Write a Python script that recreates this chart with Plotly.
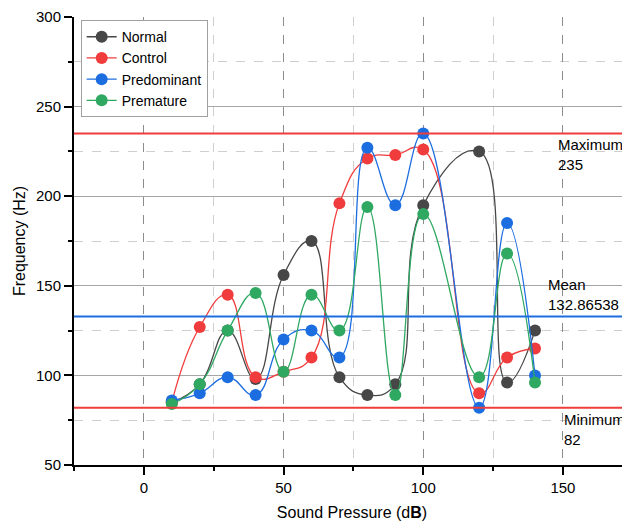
import plotly.graph_objects as go

# ---- data ----
sound_pressure = [10, 20, 30, 40, 50, 60, 70, 80, 90, 100, 120, 130, 140]
normal = [85, 95, 125, 98, 156, 175, 99, 89, 95, 195, 225, 96, 125]
control = [85, 127, 145, 99, 102, 110, 196, 221, 223, 226, 90, 110, 115]
predominant = [86, 90, 99, 89, 120, 125, 110, 227, 195, 235, 82, 185, 100]
premature = [84, 95, 125, 146, 102, 145, 125, 194, 89, 190, 99, 168, 96]

series_names = ["Normal", "Control", "Predominant", "Premature"]
series_values = [normal, control, predominant, premature]
series_colors = ["#474747", "#f03c3c", "#1c6ee0", "#2fa862"]

ref_labels = ["Maximum", "Mean", "Minimum"]
ref_values = [235, 132.86538, 82]
ref_colors = ["#f03c3c", "#1c6ee0", "#f03c3c"]

x_ticks = [0, 50, 100, 150]
y_ticks = [50, 100, 150, 200, 250, 300]

FONT = "Liberation Sans, Arial, sans-serif"

fig = go.Figure()

for name, vals, col in zip(series_names, series_values, series_colors):
    fig.add_trace(go.Scatter(
        x=sound_pressure, y=vals, name=name, mode="lines+markers",
        line=dict(color=col, width=1.3, shape="spline", smoothing=1.3),
        marker=dict(color=col, size=12),
    ))

for lab, val, col in zip(ref_labels, ref_values, ref_colors):
    fig.add_hline(y=val, line=dict(color=col, width=2), layer="above")

# annotations for reference lines
fig.add_annotation(x=147.6, y=ref_values[0], xref="x", yref="y",
                   text=f"{ref_labels[0]}<br>{ref_values[0]}", showarrow=False,
                   xanchor="left", yanchor="top", align="left", yshift=-1,
                   font=dict(size=15, color="black", family=FONT))
fig.add_annotation(x=144.0, y=ref_values[1], xref="x", yref="y",
                   text=f"{ref_labels[1]}<br>{ref_values[1]}", showarrow=False,
                   xanchor="left", yanchor="bottom", align="left", yshift=2,
                   font=dict(size=15, color="black", family=FONT))
fig.add_annotation(x=149.6, y=ref_values[2], xref="x", yref="y",
                   text=f"{ref_labels[2]}<br>{ref_values[2]}", showarrow=False,
                   xanchor="left", yanchor="top", align="left", yshift=-1,
                   font=dict(size=15, color="black", family=FONT))

fig.update_layout(
    width=622, height=517,
    margin=dict(l=66, r=0, t=9, b=60),
    paper_bgcolor="white", plot_bgcolor="white",
    font=dict(family=FONT, size=15, color="black"),
    showlegend=True,
    legend=dict(x=0.012, y=0.993, xanchor="left", yanchor="top",
                bgcolor="white", bordercolor="#a0a0a0", borderwidth=1,
                font=dict(size=14), tracegroupgap=0, itemwidth=30),
    xaxis=dict(
        range=[-25, 174], tickvals=x_ticks, ticks="outside", ticklen=8,
        tickwidth=1.5, tickcolor="black",
        showline=True, linecolor="black", linewidth=2,
        showgrid=True, gridcolor="#8c8c8c", griddash="dash", gridwidth=1,
        zeroline=False,
        minor=dict(tick0=-25, dtick=50, ticks="outside", ticklen=4,
                   tickcolor="black", showgrid=True, gridcolor="#cfcfcf",
                   griddash="dash"),
        title=dict(text="Sound Pressure (d<b>B</b>)", font=dict(size=16), standoff=12),
        tickfont=dict(size=15),
    ),
    yaxis=dict(
        range=[50, 300], tickvals=y_ticks, ticks="outside", ticklen=8,
        tickwidth=1.5, tickcolor="black",
        showline=True, linecolor="black", linewidth=2,
        showgrid=True, gridcolor="#a6a6a6", gridwidth=1.2,
        zeroline=False,
        minor=dict(tick0=75, dtick=50, ticks="outside", ticklen=4,
                   tickcolor="black", showgrid=True, gridcolor="#cfcfcf",
                   griddash="dash"),
        title=dict(text="Frequency (Hz)", font=dict(size=16), standoff=6),
        tickfont=dict(size=15),
    ),
)

fig.write_html("out.html")
